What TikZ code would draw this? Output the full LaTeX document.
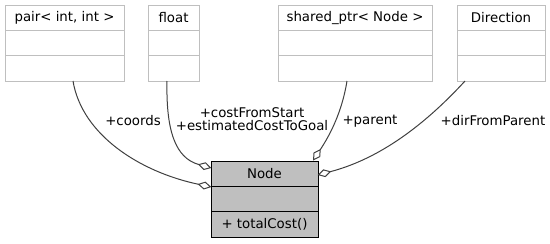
\documentclass[tikz,border=0pt]{standalone}
\usepackage{fontspec}
\setmainfont{DejaVu Sans}
\usetikzlibrary{arrows.meta,calc}
\definecolor{boxgray}{RGB}{191,191,191}
\definecolor{edgegray}{RGB}{64,64,64}
\definecolor{nodefill}{RGB}{191,191,191}

% A UML class box with a title, an attribute and an operation compartment
\newcommand\umlclass[7]{% name, left x, top y, width, style, title, operation
  \node[#5, minimum width=#4*0.75pt, minimum height=57pt, anchor=north west] (#1) at (#2,#3) {};
  \draw[#5] ($(#1.north west)+(0,25.5)$) -- ($(#1.north east)+(0,25.5)$);
  \draw[#5] ($(#1.north west)+(0,50.5)$) -- ($(#1.north east)+(0,50.5)$);
  \node (#1-title) at ($(#1.north)+(0,13)$) {#6};
  \node (#1-ops) at ($(#1.north)+(0,63)$) {#7};
}

\begin{document}
\begin{tikzpicture}[x=0.75pt,y=-0.75pt,
  every node/.style={font=\fontsize{10pt}{9.75pt}\selectfont, inner sep=0pt, outer sep=0pt},
  plainclass/.style={draw=boxgray, line width=0.75pt, fill=white},
  mainclass/.style={draw=black, line width=0.75pt, fill=nodefill},
  assoc/.style={draw=edgegray, line width=0.75pt,
    -{Diamond[open, length=10.5pt, width=6pt, line width=0.75pt]}},
  role/.style={text=black, align=center}
]
\useasboundingbox (0,0) rectangle (550,243);

\umlclass{pair}{5}{5}{119}{plainclass}{pair< int, int >}{}
\umlclass{float}{148}{5}{51}{plainclass}{float}{}
\umlclass{sptr}{278}{5}{154}{plainclass}{shared\_ptr< Node >}{}
\umlclass{dir}{457}{5}{88}{plainclass}{Direction}{}
\umlclass{node}{211}{161}{107}{mainclass}{Node}{+ totalCost()}

% attachment points of the associations
\coordinate (pairOut) at (73,81);
\coordinate (floatOut) at (167,81);
\coordinate (sptrOut) at (347,81);
\coordinate (dirOut) at (465,81);
\coordinate (nodeInA) at (211.4,187);
\coordinate (nodeInB) at (211.4,168);
\coordinate (nodeInC) at (313,160.6);
\coordinate (nodeInD) at (317.6,175);

\draw[assoc] (pairOut) .. controls (82,135) and (140,172) .. (nodeInA);
\draw[assoc] (floatOut) .. controls (166,130) and (175,158) .. (nodeInB);
\draw[assoc] (sptrOut) .. controls (342,112) and (330,135) .. (nodeInC);
\draw[assoc] (dirOut) .. controls (420,130) and (375,160) .. (nodeInD);

\node[role] (lcoords) at (133,121) {+coords};
\node[role] (lcost) at (252,119.5) {+costFromStart\\+estimatedCostToGoal};
\node[role] (lparent) at (370,121) {+parent};
\node[role] (ldir) at (493,121) {+dirFromParent};
\end{tikzpicture}
\end{document}
